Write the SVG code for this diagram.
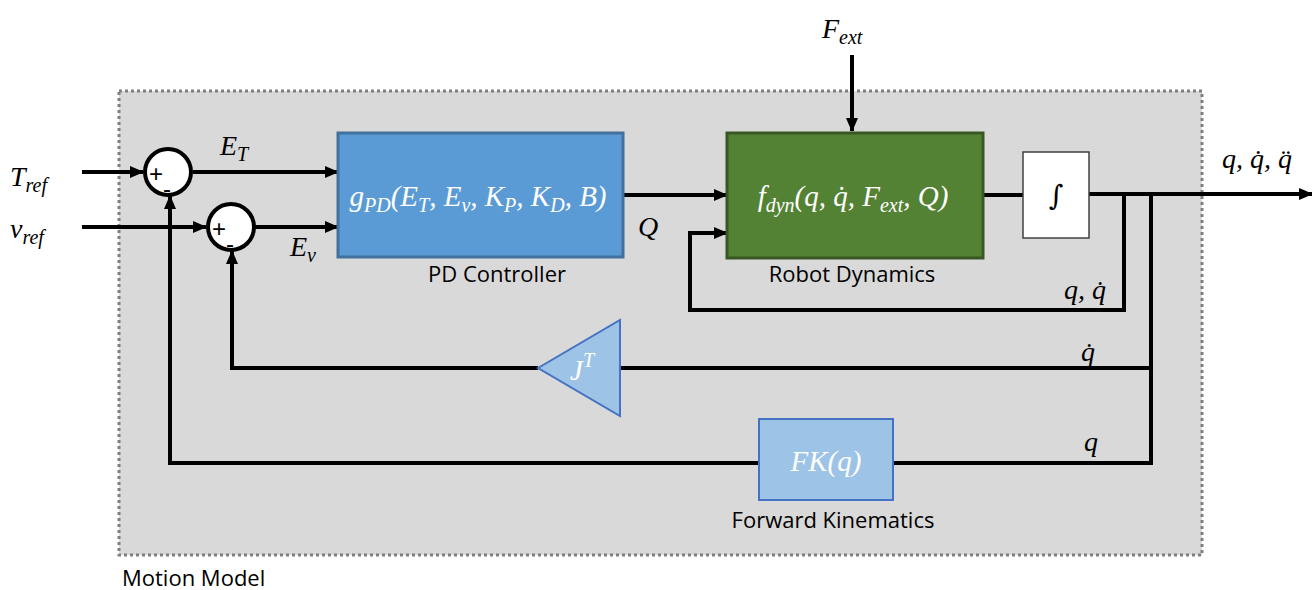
<svg xmlns="http://www.w3.org/2000/svg" width="1312" height="590" viewBox="0 0 1312 590">
<style>
.ln{fill:none;stroke:#000;stroke-width:4}
.lbl{font-family:"Open Sans","Noto Sans",sans-serif;font-size:22px;fill:#000}
.m{font-family:"Liberation Serif",serif;font-style:italic;font-size:28px;fill:#000}
.mw{font-family:"Liberation Serif",serif;font-style:italic;font-size:29px;fill:#fff}
.sb{font-size:20px}
.sgn{font-family:"Liberation Sans",sans-serif;font-size:24px;fill:#000}
</style>
<defs>
<marker id="ah" markerUnits="userSpaceOnUse" markerWidth="14" markerHeight="12" refX="13" refY="6" orient="auto">
<path d="M0,0 L14,6 L0,12 z" fill="#000"/>
</marker>
</defs>
<g id="motion-model">
<rect x="119" y="91" width="1083" height="464" fill="#d9d9d9" stroke="#7f7f7f" stroke-width="3" stroke-dasharray="3 3"/>
<text class="lbl" x="122" y="586">Motion Model</text>
</g>
<g id="connectors">
<path class="ln" d="M82,172 H143" marker-end="url(#ah)"/>
<path class="ln" d="M82,227 H206" marker-end="url(#ah)"/>
<path class="ln" d="M193,172 H338" marker-end="url(#ah)"/>
<path class="ln" d="M255,227 H338" marker-end="url(#ah)"/>
<path class="ln" d="M623,195 H727" marker-end="url(#ah)"/>
<path class="ln" d="M852,55 V131" marker-end="url(#ah)"/>
<path class="ln" d="M983,195 H1023"/>
<path class="ln" d="M1089,194 H1312" marker-end="url(#ah)"/>
<path class="ln" d="M1124,194 V310 H690 V233 H727" marker-end="url(#ah)"/>
<path class="ln" d="M1151,194 V463 H893"/>
<path class="ln" d="M1151,368 H620"/>
<path class="ln" d="M538,368 H232 V251" marker-end="url(#ah)"/>
<path class="ln" d="M759,463 H170 V196" marker-end="url(#ah)"/>
<text class="m" x="220" y="155">E<tspan class="sb" dy="6">T</tspan></text>
<text class="m" x="290" y="256">E<tspan class="sb" dy="6">v</tspan></text>
<text class="m" x="638" y="236">Q</text>
<text class="m" x="822" y="38">F<tspan class="sb" dy="6">ext</tspan></text>
<text class="m" x="1222" y="168">q, q̇, q̈</text>
<text class="m" x="1064" y="299">q, q̇</text>
<text class="m" x="1081" y="361">q̇</text>
<text class="m" x="1084" y="451">q</text>
<text class="m" x="10" y="186">T<tspan class="sb" dy="6">ref</tspan></text>
<text class="m" x="10" y="238">v<tspan class="sb" dy="6">ref</tspan></text>
</g>
<g id="sum1">
<circle cx="168" cy="172" r="23" fill="#fff" stroke="#000" stroke-width="4"/>
<text class="sgn" x="149" y="182">+</text>
<text class="sgn" x="163" y="197">-</text>
</g>
<g id="sum2">
<circle cx="231" cy="227" r="23" fill="#fff" stroke="#000" stroke-width="4"/>
<text class="sgn" x="212" y="237">+</text>
<text class="sgn" x="226" y="252">-</text>
</g>
<g id="pd-controller">
<rect x="338" y="133" width="285" height="124" fill="#5b9bd5" stroke="#41719c" stroke-width="3"/>
<text class="mw" x="478" y="206" text-anchor="middle">g<tspan class="sb" dy="6">PD</tspan><tspan dy="-6">(E</tspan><tspan class="sb" dy="6">T</tspan><tspan dy="-6">, E</tspan><tspan class="sb" dy="6">v</tspan><tspan dy="-6">, K</tspan><tspan class="sb" dy="6">P</tspan><tspan dy="-6">, K</tspan><tspan class="sb" dy="6">D</tspan><tspan dy="-6">, B)</tspan></text>
<text class="lbl" x="497" y="282" text-anchor="middle">PD Controller</text>
</g>
<g id="robot-dynamics">
<rect x="727" y="133" width="256" height="125" fill="#548235" stroke="#385723" stroke-width="3"/>
<text class="mw" x="853" y="206" text-anchor="middle">f<tspan class="sb" dy="6">dyn</tspan><tspan dy="-6">(q, q̇, F</tspan><tspan class="sb" dy="6">ext</tspan><tspan dy="-6">, Q)</tspan></text>
<text class="lbl" x="852" y="282" text-anchor="middle">Robot Dynamics</text>
</g>
<g id="integrator">
<rect x="1023" y="152" width="66" height="86" fill="#fff" stroke="#404040" stroke-width="1.5"/>
<text x="1056" y="205" text-anchor="middle" font-family="DejaVu Serif,serif" font-size="28" fill="#000">∫</text>
</g>
<g id="jacobian">
<polygon points="538,368 620,320 620,416" fill="#9dc3e6" stroke="#4472c4" stroke-width="2"/>
<text class="mw" x="582" y="380" text-anchor="middle">J<tspan class="sb" dy="-13">T</tspan></text>
</g>
<g id="forward-kinematics">
<rect x="759" y="419" width="134" height="81" fill="#9dc3e6" stroke="#4472c4" stroke-width="2"/>
<text class="mw" x="826" y="471" text-anchor="middle">FK(q)</text>
<text class="lbl" x="833" y="528" text-anchor="middle">Forward Kinematics</text>
</g>
</svg>
